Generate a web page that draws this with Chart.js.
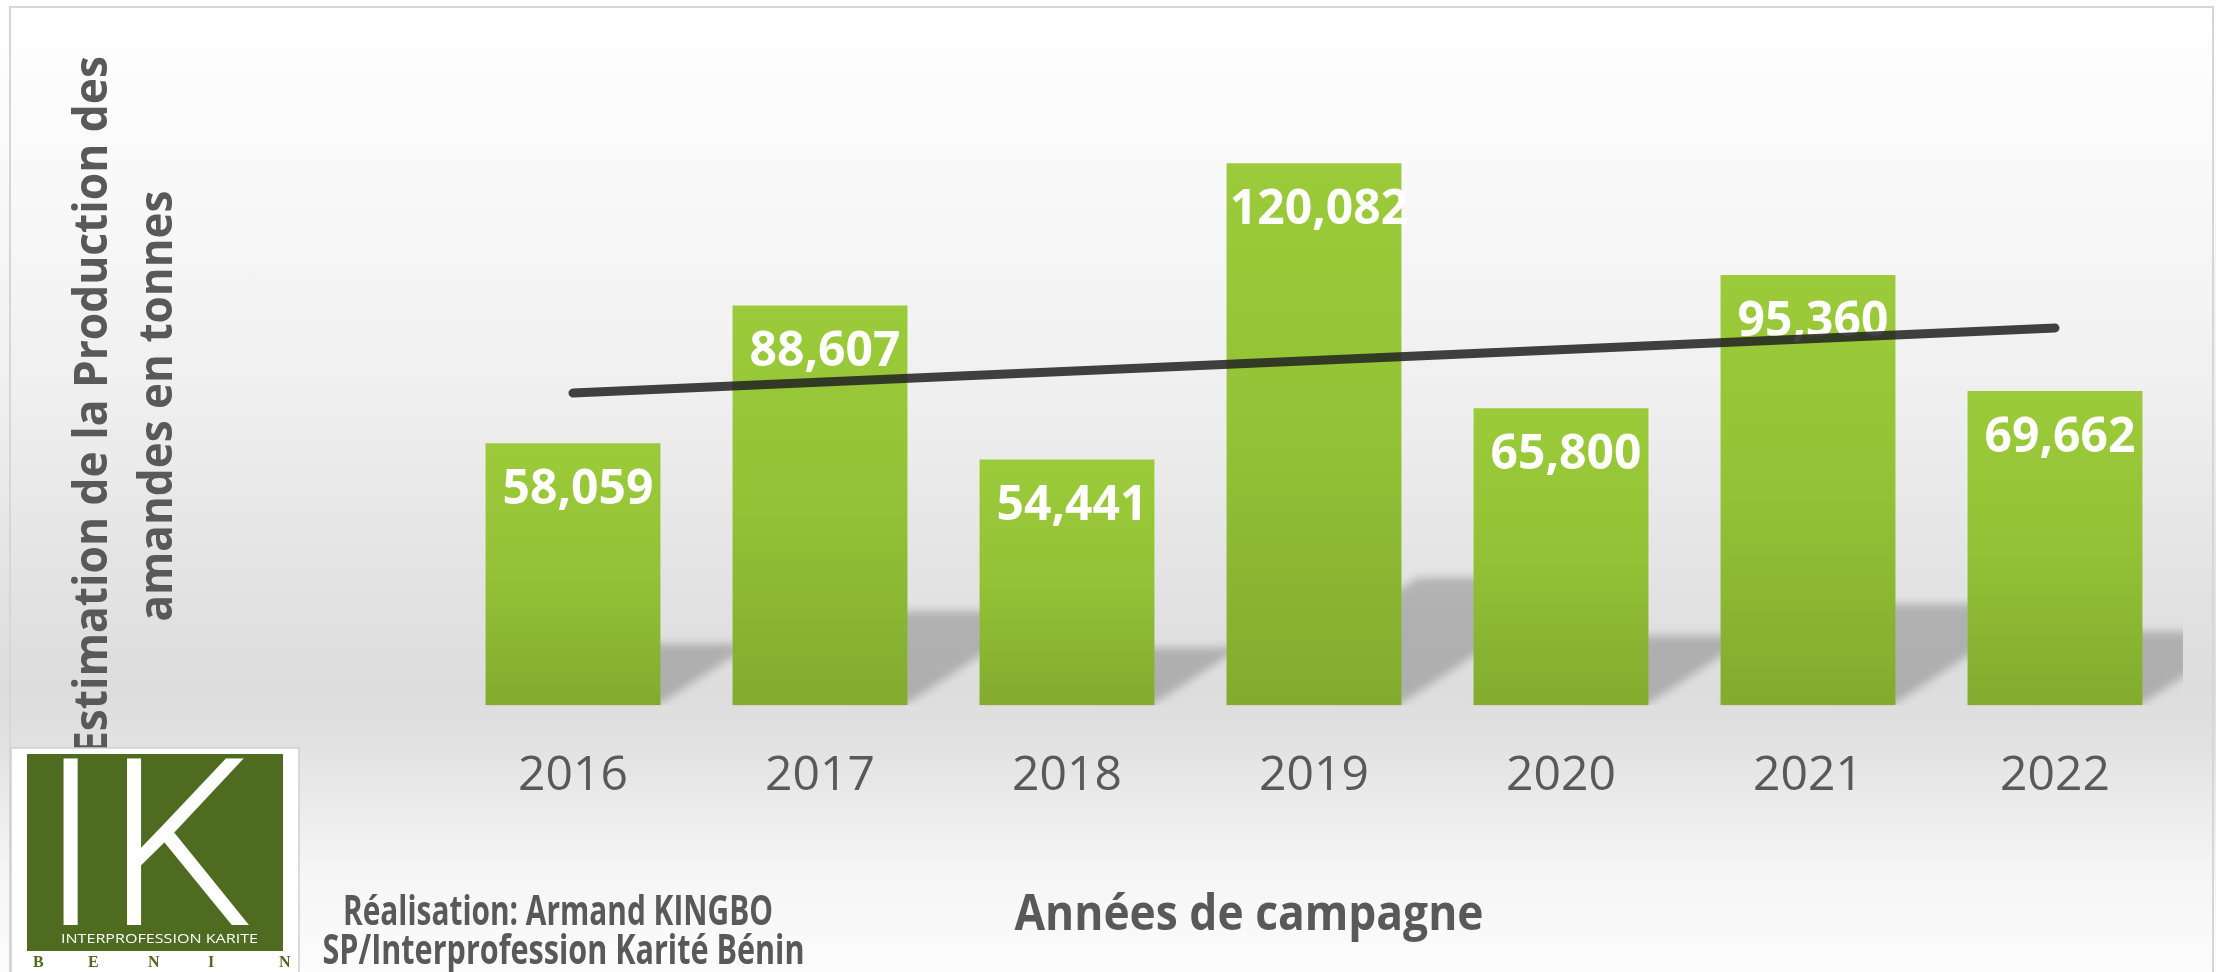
<!DOCTYPE html>
<html lang="fr">
<head>
<meta charset="utf-8">
<title>Estimation de la production des amandes de karité</title>
<script src="https://cdn.jsdelivr.net/npm/chart.js@4.4.1/dist/chart.umd.min.js"></script>
<style>
  html, body { margin: 0; padding: 0; background: #fff; }
  #wrap {
    position: relative;
    width: 2216px;
    height: 972px;
    overflow: hidden;
    background: linear-gradient(180deg,
      #ffffff 0px, #f9f9f9 180px, #efefef 400px, #e3e3e3 580px,
      #dddddd 690px, #e1e1e1 740px, #ececec 810px, #f6f6f6 880px, #fcfcfc 972px);
  }
  #frame {
    position: absolute;
    left: 9px; top: 6px;
    width: 2201px; height: 990px;
    border: 2px solid #d6d6d6;
    pointer-events: none;
  }
  #box { position: absolute; left: 0; top: 0; width: 2216px; height: 972px; }
  #logo { position: absolute; left: 0; top: 740px; }
</style>
</head>
<body>
<div id="wrap">
  <div id="frame"></div>
  <div id="box"><canvas id="chart"></canvas></div>
  <svg id="logo" width="320" height="232" viewBox="0 740 320 232" xmlns="http://www.w3.org/2000/svg">
    <rect x="11" y="748" width="288" height="232" fill="#ffffff" stroke="#cfcfcf" stroke-width="1.5"/>
    <rect x="27" y="754" width="256" height="197" fill="#4e6b20"/>
    <text x="70.5" y="925" text-anchor="middle" font-family="Roboto" font-weight="300" font-size="233" fill="#ffffff">I</text>
    <text x="106" y="925" font-family="Roboto" font-weight="300" font-size="233" fill="#ffffff">K</text>
    <text x="61" y="943" font-family="Open Sans" font-size="12.6" fill="#ffffff" textLength="197" lengthAdjust="spacingAndGlyphs">INTERPROFESSION KARITE</text>
    <text x="33 88 148 208 279" y="967" font-family="Liberation Serif" font-weight="bold" font-size="16" fill="#4e6b20">BENIN</text>
  </svg>
</div>
<script>
// campagnes et production estimée (tonnes)
const years = ["2016", "2017", "2018", "2019", "2020", "2021", "2022"];
const production = [58059, 88607, 54441, 120082, 65800, 95360, 69662];
// courbe de tendance : extrémités
const trendEnds = [69200, null, null, null, null, null, 83600];
const yMax = 140000;

const yTitleLines = ["Estimation de la Production des", "amandes en tonnes"];
const xTitle = "Années de campagne";
const creditLines = ["Réalisation: Armand KINGBO", "SP/Interprofession Karité Bénin"];

const TEXT_GREY = "#595959";
const FONT = '"Open Sans", "Noto Sans", sans-serif';

/** ombre en perspective (diagonale haut-droite) derrière chaque barre */
const SHADOW_RATIO = 0.235;
const SHADOW_SKEW = 1.5;

function barFill(context) {
  const chart = context.chart;
  const area = chart.chartArea;
  if (!area) return "#93c236";
  const top = chart.scales.y.getPixelForValue(production[context.dataIndex]);
  const g = chart.ctx.createLinearGradient(0, top, 0, area.bottom);
  g.addColorStop(0, "#9bcb3a");
  g.addColorStop(0.5, "#93c236");
  g.addColorStop(1, "#82ab2f");
  return g;
}

const floorShadow = {
  id: "floorShadow",
  beforeDatasetsDraw(chart) {
    const meta = chart.getDatasetMeta(0);
    const { ctx, chartArea } = chart;
    ctx.save();
    ctx.beginPath();
    ctx.rect(chartArea.left, 0, chartArea.right - chartArea.left + 4.5, chartArea.bottom);
    ctx.clip();
    ctx.filter = "blur(4px)";
    ctx.fillStyle = "rgba(0,0,0,0.21)";
    for (const bar of meta.data) {
      const { x, y, base, width } = bar.getProps(["x", "y", "base", "width"], true);
      const h = (base - y) * SHADOW_RATIO;
      const dx = h * SHADOW_SKEW;
      const l = x - width / 2;
      const r = x + width / 2;
      ctx.beginPath();
      ctx.moveTo(l, base);
      ctx.lineTo(r, base - 2);
      ctx.lineTo(r + dx, base - h);
      ctx.lineTo(l + dx, base - h);
      ctx.closePath();
      ctx.fill();
    }
    ctx.restore();
  },
};

const barLabels = {
  id: "barLabels",
  afterDatasetDraw(chart, args) {
    if (args.index !== 0) return;
    const { ctx } = chart;
    ctx.save();
    ctx.fillStyle = "#ffffff";
    ctx.font = `bold 48px ${FONT}`;
    ctx.textAlign = "center";
    ctx.textBaseline = "middle";
    args.meta.data.forEach((bar, i) => {
      const { x, y } = bar.getProps(["x", "y"], true);
      ctx.fillText(production[i].toLocaleString("en-US"), x + 5, y + 47);
    });
    ctx.restore();
  },
};

const sideTexts = {
  id: "sideTexts",
  afterDraw(chart) {
    const { ctx } = chart;
    ctx.save();
    ctx.fillStyle = TEXT_GREY;
    ctx.textAlign = "center";
    ctx.textBaseline = "alphabetic";

    // titre vertical sur deux lignes
    ctx.font = `bold 47px ${FONT}`;
    const yCols = [[107, 700], [172, 431]];
    yTitleLines.forEach((line, i) => {
      ctx.save();
      ctx.translate(yCols[i][0], 406);
      ctx.rotate(-Math.PI / 2);
      ctx.fillText(line, 0, 0, yCols[i][1]);
      ctx.restore();
    });

    ctx.font = `bold 50px ${FONT}`;
    ctx.fillText(xTitle, 1249, 930, 469);

    ctx.font = `bold 41px ${FONT}`;
    ctx.fillText(creditLines[0], 558, 925, 430);
    ctx.fillText(creditLines[1], 563.5, 964, 482);
    ctx.restore();
  },
};

function drawChart() {
  const canvas = document.getElementById("chart");
  new Chart(canvas, {
    data: {
      labels: years,
      datasets: [
        {
          type: "bar",
          label: "Production",
          data: production,
          backgroundColor: barFill,
          borderWidth: 0,
          barPercentage: 0.708,
          categoryPercentage: 1,
          order: 1,
        },
        {
          type: "line",
          label: "Tendance",
          data: trendEnds,
          spanGaps: true,
          borderColor: "rgba(34,34,34,0.86)",
          borderWidth: 9,
          borderCapStyle: "round",
          pointRadius: 0,
          tension: 0,
          order: 0,
        },
      ],
    },
    options: {
      responsive: true,
      maintainAspectRatio: false,
      animation: false,
      devicePixelRatio: 1,
      layout: {
        padding: { left: 449.5, right: 37.5, top: 73.5, bottom: 125.2 },
      },
      plugins: {
        legend: { display: false },
        tooltip: { enabled: false },
      },
      scales: {
        x: {
          type: "category",
          offset: true,
          grid: { display: false, drawTicks: false },
          border: { display: false },
          ticks: {
            color: TEXT_GREY,
            padding: 42,
            font: { family: FONT, size: 48, lineHeight: 1.2 },
          },
        },
        y: {
          display: false,
          min: 0,
          max: yMax,
        },
      },
    },
    plugins: [floorShadow, barLabels, sideTexts],
  });
}

Promise.all([
  document.fonts.load(`bold 48px ${FONT}`),
  document.fonts.load(`48px ${FONT}`),
]).then(drawChart, drawChart);
</script>
</body>
</html>
